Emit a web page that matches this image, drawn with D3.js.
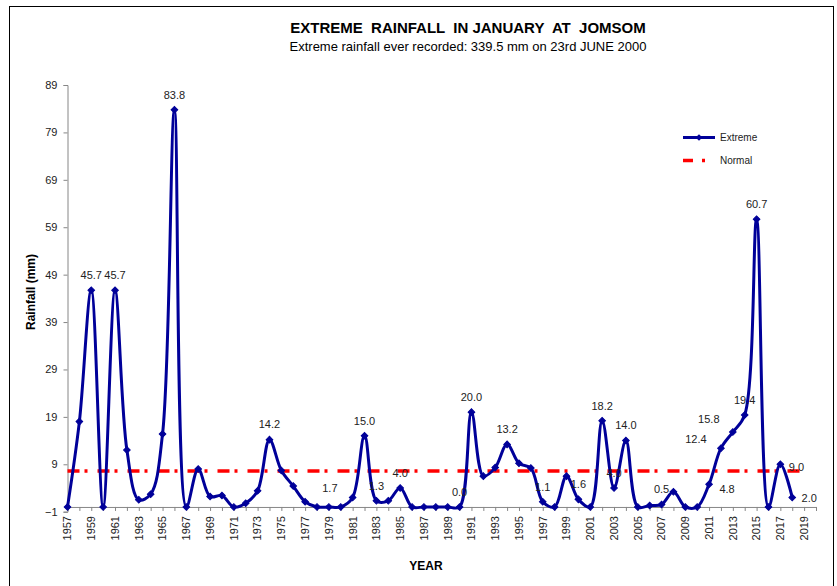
<!DOCTYPE html>
<html>
<head>
<meta charset="utf-8">
<script src="https://cdn.jsdelivr.net/npm/d3@7"></script>
<style>
  html, body { margin: 0; padding: 0; background: #fff; }
  svg { display: block; }
  text { font-family: "Liberation Sans", Arial, sans-serif; }
</style>
</head>
<body>
<svg id="chart" width="837" height="586"></svg>
<script>
// ---------------- data ----------------
const years = d3.range(1957, 2019); // 1957..2018
const extreme = [
  0, 18.0, 45.7, 0, 45.7, 12.0, 1.5, 2.7, 15.4, 83.8,      // 1957-1966
  0, 8.0, 2.2, 2.4, 0, 0.8, 3.4, 14.2, 7.7, 4.4,           // 1967-1976
  1.1, 0, 0, 0, 2.0, 15.0, 1.3, 1.3, 4.0, 0,               // 1977-1986
  0, 0, 0, 0, 20.0, 6.5, 8.3, 13.2, 9.2, 8.2,              // 1987-1996
  1.1, 0, 6.5, 1.6, 0, 18.2, 4.0, 14.0, 0, 0.3,            // 1997-2006
  0.5, 3.2, 0, 0, 4.8, 12.4, 15.8, 19.4, 60.7, 0,          // 2007-2016
  9.0, 2.0                                                 // 2017-2018
];
const normalValue = 7.6;
const normalYears = [1957, 2019];
const labelYears = [1959, 1961, 1966, 1974, 1979, 1982, 1983, 1985, 1990, 1991, 1994,
  1997, 2000, 2002, 2003, 2004, 2007, 2011, 2012, 2013, 2014, 2015, 2017, 2018];
const labelTexts = ["45.7", "45.7", "83.8", "14.2", "1.7", "15.0", "1.3", "4.0", "0.0", "20.0", "13.2",
  "1.1", "1.6", "18.2", "4.0", "14.0", "0.5", "4.8", "12.4", "15.8", "19.4", "60.7", "9.0", "2.0"];
const yTicks = [-1, 9, 19, 29, 39, 49, 59, 69, 79, 89];
const xLabelYears = d3.range(1957, 2020, 2);
const xTickYears = d3.range(1957, 2021);

const titleText = "EXTREME  RAINFALL  IN JANUARY  AT  JOMSOM";
const subtitleText = "Extreme rainfall ever recorded: 339.5 mm on 23rd JUNE 2000";
const yTitle = "Rainfall (mm)";
const xTitle = "YEAR";
const legendNames = ["Extreme", "Normal"];

// ---------------- styling / layout ----------------
const BLUE = "#000099";
const RED = "#ff0000";
const AXIS = "#868686";
// label offsets (dx, dy) relative to the point; default is above
const labelOffset = {
  1979: [1, -19], 2011: [18, 5], 2012: [-25, -9], 2013: [-24, -13],
  2017: [16, 3], 2018: [17, 1]
};

const svg = d3.select("#chart");

const x = d3.scaleLinear().domain([1957, 2020]).range([67.5, 816]);
const y = d3.scaleLinear().domain([-1, 89]).range([511.7, 85]);

// outer border
svg.append("rect")
  .attr("x", 9.5).attr("y", 6.5).attr("width", 824).attr("height", 620)
  .attr("fill", "none").attr("stroke", "#000").attr("stroke-width", 1);

// titles
svg.append("text").attr("x", 468).attr("y", 33).attr("text-anchor", "middle")
  .attr("font-size", 15).attr("font-weight", "bold").attr("fill", "#000")
  .style("white-space", "pre").attr("xml:space", "preserve").text(titleText);
svg.append("text").attr("x", 468).attr("y", 51).attr("text-anchor", "middle")
  .attr("font-size", 13).attr("fill", "#000").text(subtitleText);

// y axis
const yAxis = d3.axisLeft(y).tickValues(yTicks).tickSize(4).tickPadding(6).tickFormat(d3.format("d"));
const gy = svg.append("g").attr("transform", "translate(67.5,0)").call(yAxis);
gy.select(".domain").attr("stroke", AXIS);
gy.selectAll(".tick line").attr("stroke", AXIS);
gy.selectAll(".tick text").attr("font-size", 11).attr("fill", "#222")
  .attr("font-family", "'Liberation Sans', Arial, sans-serif");

// x axis at value 0
const xAxis = d3.axisBottom(x).tickValues(xTickYears).tickSize(4).tickFormat("");
const gx = svg.append("g").attr("transform", `translate(0,${y(0)})`).call(xAxis);
gx.select(".domain").attr("stroke", AXIS);
gx.selectAll(".tick line").attr("stroke", AXIS);

// x tick labels (rotated)
svg.append("g").selectAll("text").data(xLabelYears).join("text")
  .attr("transform", d => `translate(${x(d)},516) rotate(-90)`)
  .attr("text-anchor", "end").attr("dy", "0.35em")
  .attr("font-size", 11).attr("fill", "#222").text(d => d);

// axis titles
svg.append("text").attr("transform", "translate(35,292) rotate(-90)")
  .attr("text-anchor", "middle").attr("font-size", 12).attr("font-weight", "bold")
  .text(yTitle);
svg.append("text").attr("x", 426).attr("y", 570).attr("text-anchor", "middle")
  .attr("font-size", 12).attr("font-weight", "bold").text(xTitle);

// normal line
const normalDash = "12,5,3,10";
svg.append("line")
  .attr("x1", x(normalYears[0])).attr("x2", x(normalYears[1]))
  .attr("y1", y(normalValue)).attr("y2", y(normalValue))
  .attr("stroke", RED).attr("stroke-width", 3.5).attr("stroke-dasharray", normalDash);

// extreme line
const pts = years.map((yr, i) => [yr, extreme[i]]);
const line = d3.line().x(d => x(d[0])).y(d => y(d[1])).curve(d3.curveCatmullRom.alpha(0.5));
svg.append("path").attr("d", line(pts)).attr("fill", "none")
  .attr("stroke", BLUE).attr("stroke-width", 3).attr("stroke-linejoin", "round");

const diamond = d3.symbol().type(d3.symbolSquare).size(22);
svg.append("g").selectAll("path").data(pts).join("path")
  .attr("d", diamond())
  .attr("transform", d => `translate(${x(d[0])},${y(d[1])}) rotate(45)`)
  .attr("fill", BLUE).attr("stroke", BLUE).attr("stroke-width", 1);

// data labels
const valueOf = yr => extreme[years.indexOf(yr)];
svg.append("g").selectAll("text").data(labelYears).join("text")
  .attr("x", d => x(d) + (labelOffset[d] ? labelOffset[d][0] : 0))
  .attr("y", d => y(valueOf(d)) + (labelOffset[d] ? labelOffset[d][1] : -15))
  .attr("dy", "0.35em").attr("text-anchor", "middle")
  .attr("font-size", 11).attr("fill", "#222")
  .text((d, i) => labelTexts[i]);

// legend
const lg = svg.append("g");
lg.append("line").attr("x1", 683).attr("x2", 715).attr("y1", 137.5).attr("y2", 137.5)
  .attr("stroke", BLUE).attr("stroke-width", 3);
lg.append("path").attr("d", diamond()).attr("transform", "translate(699,137.5) rotate(45)")
  .attr("fill", BLUE);
lg.append("text").attr("x", 720).attr("y", 141).attr("font-size", 10).attr("fill", "#222").text(legendNames[0]);
lg.append("line").attr("x1", 683).attr("x2", 706).attr("y1", 160.5).attr("y2", 160.5)
  .attr("stroke", RED).attr("stroke-width", 3.5).attr("stroke-dasharray", "10,9,3,20");
lg.append("text").attr("x", 720).attr("y", 164).attr("font-size", 10).attr("fill", "#222").text(legendNames[1]);
</script>
</body>
</html>
